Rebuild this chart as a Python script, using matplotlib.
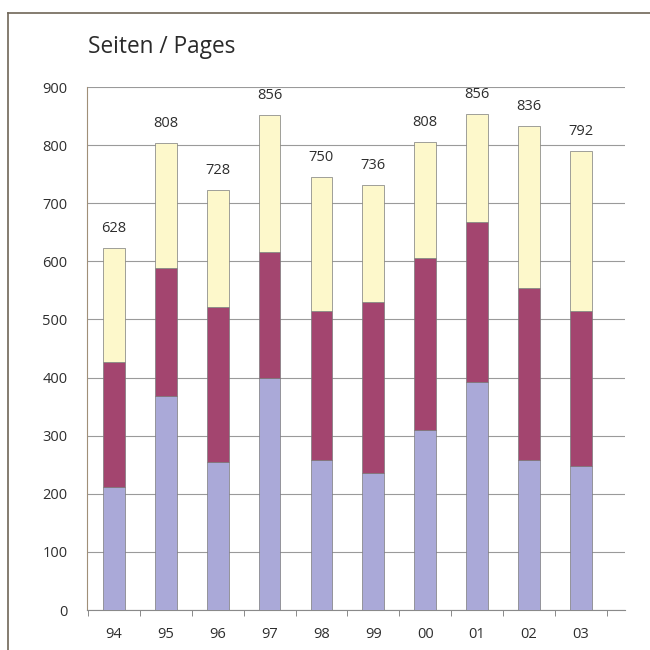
import numpy as np
import matplotlib.pyplot as plt
from matplotlib.lines import Line2D

plt.rcParams['font.family'] = ['Open Sans', 'DejaVu Sans']

years = ['94', '95', '96', '97', '98', '99', '00', '01', '02', '03']
totals = [628, 808, 728, 856, 750, 736, 808, 856, 836, 792]
# Segmente von unten nach oben
blau = [211, 368, 255, 399, 258, 236, 310, 392, 258, 248]
rot = [216, 221, 267, 217, 257, 294, 296, 276, 296, 267]
gelb = [196, 215, 201, 236, 230, 201, 199, 185, 279, 275]

c_blau = '#aaa9d8'
c_rot = '#a3456f'
c_gelb = '#fdf8cb'
c_edge = '#7a7a7a'

fig = plt.figure(figsize=(6.5, 6.5), dpi=100)
ax = fig.add_axes([0.1338, 0.0615, 0.8277, 0.8046])

x = np.arange(len(years))
w = 0.42
b1 = np.array(blau)
b2 = b1 + np.array(rot)
ax.bar(x, blau, w, color=c_blau, edgecolor=c_edge, linewidth=0.5, zorder=3)
ax.bar(x, rot, w, bottom=b1, color=c_rot, edgecolor=c_edge, linewidth=0.5, zorder=3)
ax.bar(x, gelb, w, bottom=b2, color=c_gelb, edgecolor=c_edge, linewidth=0.5, zorder=3)

tops = b2 + np.array(gelb)
for xi, t, lab in zip(x, tops, totals):
    ax.annotate(str(lab), (xi, t), xytext=(0, 11.5), textcoords='offset points',
                ha='center', va='baseline', fontsize=10.5, color='#2e2e2e')

ax.set_xlim(-0.52, 9.85)
ax.set_ylim(0, 900)
ax.set_yticks(range(0, 901, 100))
ax.yaxis.grid(True, color='#9a9a9a', linewidth=0.8, zorder=0)
ax.set_xticks(x)
ax.set_xticklabels(years)
ax.set_xticks(np.arange(-0.5, 9.6, 1), minor=True)
ax.tick_params(axis='x', which='major', length=0, pad=12, labelsize=10.5, labelcolor='#2e2e2e')
ax.tick_params(axis='x', which='minor', length=4, direction='out', color='#777777')
ax.tick_params(axis='y', length=0, pad=14, labelsize=10.5, labelcolor='#2e2e2e')

for s in ['top', 'right']:
    ax.spines[s].set_visible(False)
ax.spines['left'].set_color('#a08f78')
ax.spines['bottom'].set_color('#8a8a8a')
ax.spines['left'].set_linewidth(0.8)
ax.spines['bottom'].set_linewidth(0.8)

fig.text(0.135, 0.928, 'Seiten / Pages', fontsize=16.3, color='#2a2a2a', va='center', ha='left')

# Rahmen
fig.add_artist(Line2D([0.013, 1.0], [0.98, 0.98], color='#6f6658', linewidth=1.2, transform=fig.transFigure))
fig.add_artist(Line2D([0.013, 0.013], [0.0, 0.98], color='#6f6658', linewidth=1.2, transform=fig.transFigure))

fig.savefig('out.png', dpi=100)
